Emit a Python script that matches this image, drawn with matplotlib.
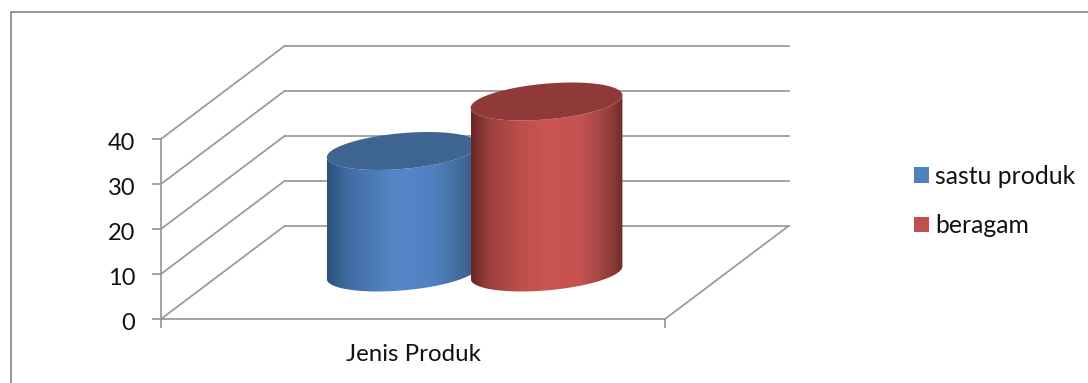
import numpy as np
import matplotlib
matplotlib.use("Agg")
import matplotlib.pyplot as plt
from matplotlib.colors import LinearSegmentedColormap
from matplotlib.lines import Line2D
from matplotlib.patches import Patch, Polygon
from matplotlib.transforms import ScaledTranslation

categories = ["Jenis Produk"]
series_names = ["sastu produk", "beragam"]
series_values = [27, 38]
y_ticks = [0, 10, 20, 30, 40]

W, H = 1088, 383
GRID = "#989898"
LEGEND_COLORS = ["#4f81bd", "#c0504d"]
SIDE_STOPS = [
    [(0, "#2c4f78"), (0.12, "#3f6a9e"), (0.35, "#4f80bc"), (0.52, "#5787cb"),
     (0.7, "#5080c0"), (0.85, "#4470a0"), (1, "#35597f")],
    [(0, "#662826"), (0.12, "#9c413e"), (0.35, "#c0504d"), (0.5, "#cb5552"),
     (0.72, "#c45250"), (0.85, "#a44644"), (0.93, "#8e3b39"), (1, "#6e2b29")],
]
TOP_COLORS = ["#3e6591", "#8f3a38"]

# shift of the back wall relative to the front axes, in data units
DEPTH_X = 123.5 / 504
DEPTH_Y = 93 / 4.5

CENTERS = [0.357, 0.6424]
RADIUS_X = 0.142
RADIUS_D = 0.204

plt.rcParams["font.family"] = ["Lato", "DejaVu Sans"]

fig = plt.figure(figsize=(W / 100, H / 100), dpi=100)
ax = fig.add_axes([161 / W, (H - 319) / H, 504 / W, 180 / H])
ax.set_xlim(0, 1)
ax.set_ylim(0, 40)
ax.patch.set_visible(False)


def ring(center, value, t):
    """Cylinder circle at a given height, projected on the oblique view."""
    d = 0.5 + RADIUS_D * np.sin(t)
    x = center + RADIUS_X * np.cos(t) + d * DEPTH_X
    y = value + d * DEPTH_Y
    return np.column_stack([x, y])


def draw_cylinder(center, value, stops, top_color, z):
    t0 = np.arctan2(RADIUS_D * DEPTH_X, RADIUS_X)
    t = np.linspace(t0, t0 - np.pi, 120)
    low = ring(center, 0, t)
    high = ring(center, value, t)
    outline = Polygon(np.vstack([low, high[::-1]]), closed=True, fc="none", ec="none",
                      transform=ax.transData, clip_on=False)
    ax.add_patch(outline)

    cmap = LinearSegmentedColormap.from_list("side", stops)
    left, right = low[:, 0].min(), low[:, 0].max()
    im = ax.imshow(np.linspace(0, 1, 256).reshape(1, -1), cmap=cmap, aspect="auto",
                   extent=[left, right, 0, value + DEPTH_Y], interpolation="bilinear", zorder=z)
    # the column rises above the axes box, so only the outline may clip it
    im.set_clip_box(fig.bbox)
    im.set_clip_path(outline)

    cap = ring(center, value, np.linspace(0, 2 * np.pi, 240))
    ax.add_patch(Polygon(cap, closed=True, fc=top_color, ec="none", clip_on=False, zorder=z + 0.5))


# side walls and back wall grid lines
for v in y_ticks:
    ax.plot([0, DEPTH_X], [v, v + DEPTH_Y], color=GRID, lw=1.25, clip_on=False, zorder=1)
    ax.plot([DEPTH_X, 1 + DEPTH_X], [v + DEPTH_Y] * 2, color=GRID, lw=1.25, clip_on=False, zorder=1)
ax.plot([1, 1 + DEPTH_X], [0, DEPTH_Y], color=GRID, lw=1.25, clip_on=False, zorder=1)

for i, value in enumerate(series_values):
    draw_cylinder(CENTERS[i], value, SIDE_STOPS[i], TOP_COLORS[i], 3 + i)

ax.set_xlim(0, 1)
ax.set_ylim(0, 40)

for name in ["top", "right"]:
    ax.spines[name].set_visible(False)
for name in ["left", "bottom"]:
    ax.spines[name].set_color(GRID)
    ax.spines[name].set_linewidth(1.25)

ax.set_yticks(y_ticks)
ax.tick_params(axis="y", length=6.5, width=1.25, color=GRID, labelsize=17, pad=12, labelcolor="#111111")
ax.set_xticks([0, 1], ["", ""])
ax.set_xticks([0.5], categories, minor=True)
ax.tick_params(axis="x", which="major", length=6.5, width=1.25, color=GRID)
ax.tick_params(axis="x", which="minor", length=0, labelsize=17.3, pad=18, labelcolor="#111111")

# value labels sit slightly below their ticks
nudge = ScaledTranslation(0, -2 / 72, fig.dpi_scale_trans)
for label in ax.get_yticklabels():
    label.set_transform(label.get_transform() + nudge)

handles = [Patch(fc=c, ec="none") for c in LEGEND_COLORS]
fig.legend(handles, series_names, loc="center left", bbox_to_anchor=(914 / W, 1 - 201 / H),
           frameon=False, fontsize=17.8, handlelength=0.61, handleheight=0.61,
           handletextpad=0.25, labelspacing=1.07, borderpad=0, borderaxespad=0, labelcolor="#111111")

# outer chart frame, open to the right and at the bottom
fig.add_artist(Line2D([10.5 / W, 10.5 / W, 1], [0, 1 - 12 / H, 1 - 12 / H], color="#8c8c8c", lw=1.3))

fig.savefig("out.png", dpi=100)
